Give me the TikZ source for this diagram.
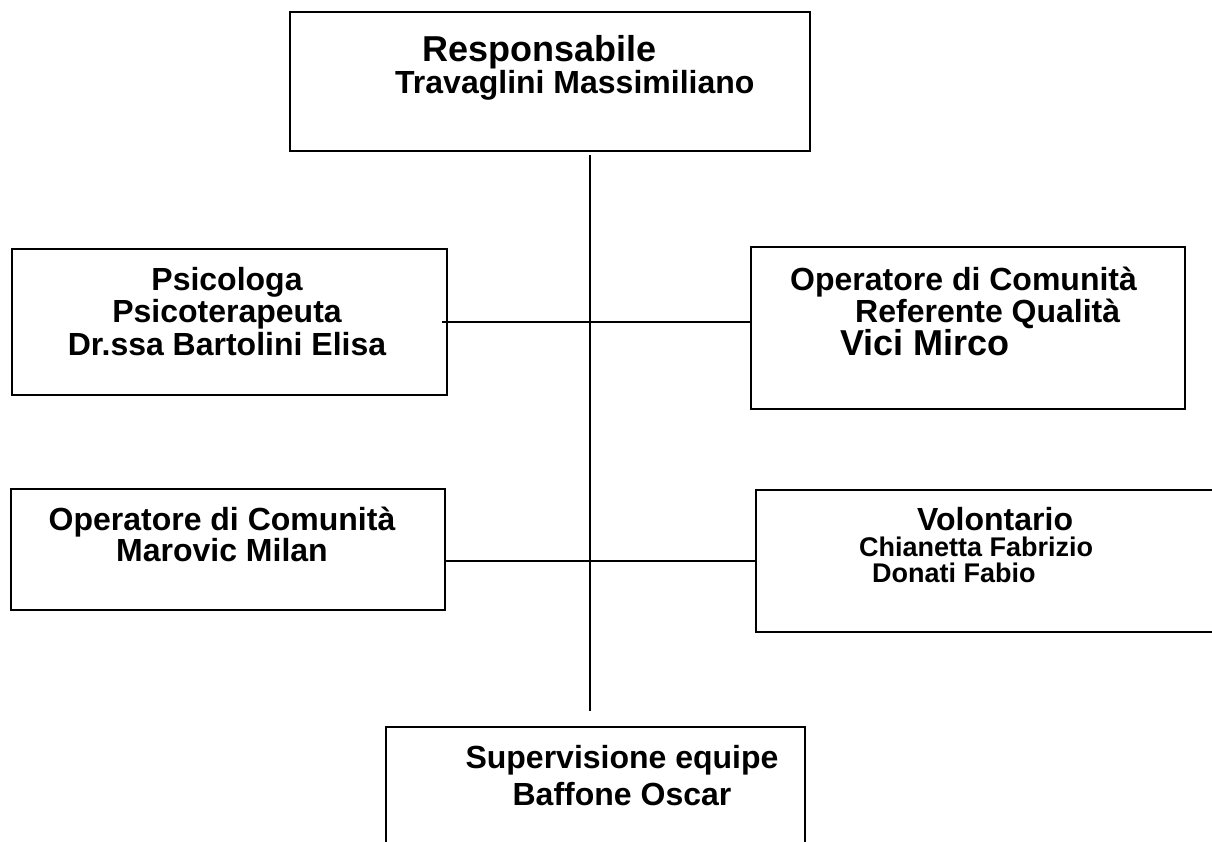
\documentclass[tikz,border=0pt]{standalone}
\usepackage{fontspec}
\setmainfont{Liberation Sans}
\begin{document}
\begin{tikzpicture}[x=1pt, y=-1pt,
    box/.style={draw, line width=1.2pt, inner sep=0pt, outer sep=0pt},
    txt/.style={font=\bfseries\fontsize{32}{32}\selectfont, inner sep=0pt}]
    \useasboundingbox (0,0) rectangle (1212,841);

    % caselle
    \node[box, minimum width=520, minimum height=139] (resp) at (550,81.5) {};
    \node[box, minimum width=435, minimum height=146] (psi) at (229.5,322) {};
    \node[box, minimum width=434, minimum height=162] (qual) at (968,328) {};
    \node[box, minimum width=434, minimum height=121] (mar) at (228,549.5) {};
    \node[box, minimum width=484, minimum height=142] (vol) at (998,561) {};
    \node[box, minimum width=419, minimum height=143] (sup) at (595.5,798.5) {};

    % testi (base = ultima riga)
    \node[txt, anchor=base west, align=left, font=\bfseries\fontsize{32}{32}\selectfont] (tresp) at (395,93)
        {\hspace*{27pt}{\fontsize{36}{32}\selectfont Responsabile}\\Travaglini Massimiliano};
    \node[txt, anchor=base, align=center, font=\bfseries\fontsize{32}{32.5}\selectfont] (tpsi) at (227,355)
        {Psicologa\\Psicoterapeuta\\Dr.ssa Bartolini Elisa};
    \node[txt, anchor=base west, align=left, font=\bfseries\fontsize{32}{32.5}\selectfont] (tqual) at (790,355)
        {Operatore di Comunità\\\hspace*{65pt}Referente Qualità\\\hspace*{50pt}{\fontsize{36}{32.5}\selectfont Vici Mirco}};
    \node[txt, anchor=base, align=center, font=\bfseries\fontsize{32}{31}\selectfont] (tmar) at (222,561)
        {Operatore di Comunità\\Marovic Milan};
    \node[txt, anchor=base west, align=left, font=\bfseries\fontsize{27}{24.5}\selectfont] (tvol) at (859,582)
        {{\fontsize{32}{24.5}\selectfont\hspace*{58pt}Volontario}\\[1pt]Chianetta Fabrizio\\[1.5pt]\hspace*{13pt}Donati Fabio};
    \node[txt, anchor=base, align=center, font=\bfseries\fontsize{32}{37}\selectfont] (tsup) at (622,805)
        {Supervisione equipe\\Baffone Oscar};

    % collegamenti
    \coordinate (trunktop) at (590,155);
    \coordinate (trunkbot) at (590,711);
    \draw[line width=1.2pt] (trunktop) -- (trunkbot);
    \draw[line width=1.2pt] ([xshift=-5pt]psi.east) -- (psi.east -| qual.west);
    \draw[line width=1.2pt] (vol.west -| mar.east) -- (vol.west);
\end{tikzpicture}
\end{document}
